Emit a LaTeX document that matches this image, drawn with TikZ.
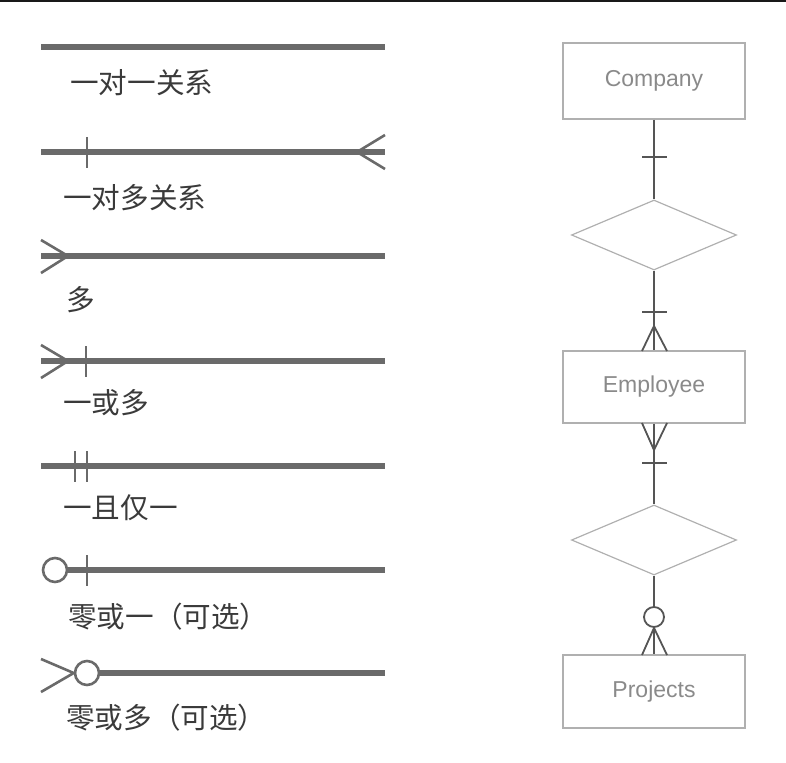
\documentclass[tikz,border=0pt]{standalone}
\usepackage{fontspec}
\setmainfont{Liberation Sans}
\newfontfamily\cjk{Noto Sans CJK SC}
\usetikzlibrary{shapes.geometric}
\definecolor{legline}{HTML}{6A6A6A}
\definecolor{conn}{HTML}{555555}
\definecolor{boxline}{HTML}{B0B0B0}
\definecolor{boxtext}{HTML}{8A8A8A}
\definecolor{labtext}{HTML}{3A3A3A}
\tikzset{
  thickline/.style={legline, line width=6pt},
  legmark/.style={legline, line width=2.6pt},
  lab/.style={anchor=west, inner sep=0pt, text=labtext, font=\cjk\fontsize{28.6}{31}\selectfont},
  entity/.style={draw=boxline, line width=1.6pt, rectangle, minimum width=182pt, inner sep=0pt, text=boxtext, font=\fontsize{23}{26}\selectfont},
  rel/.style={draw=boxline, line width=1.2pt, diamond, minimum width=165pt, minimum height=70pt, inner sep=0pt},
  conline/.style={conn, line width=2.6pt},
  conmark/.style={conn, line width=1.8pt},
  ring/.style={circle, draw=legline, fill=white, line width=2.6pt, inner sep=0pt, minimum size=24pt},
  smallring/.style={circle, draw=conn, fill=white, line width=1.8pt, inner sep=0pt, minimum size=20pt}
}
\begin{document}
\begin{tikzpicture}[x=1pt,y=-1pt]
\useasboundingbox (0,0) rectangle (786,762);
\fill[black!90] (0,0) rectangle (786,2.5);

% ---------- legend ----------
% 1: one to one
\coordinate (a1) at (41,47); \coordinate (b1) at (385,47);
\draw[thickline] (a1) -- (b1);
\node[lab] (l1) at (70,83) {一对一关系};

% 2: one to many
\coordinate (a2) at (41,152); \coordinate (b2) at (385,152);
\draw[thickline] (a2) -- (b2);
\draw[legmark] (87,137) -- (87,168);
\coordinate (f2) at (357,152);
\draw[legmark] (385,135) -- (f2) -- (385,169);
\node[lab] (l2) at (63,198) {一对多关系};

% 3: many
\coordinate (a3) at (41,256); \coordinate (b3) at (385,256);
\draw[thickline] (a3) -- (b3);
\coordinate (f3) at (68,256);
\draw[legmark] (41,240) -- (f3) -- (41,273);
\node[lab] (l3) at (66,300) {多};

% 4: one or many
\coordinate (a4) at (41,361); \coordinate (b4) at (385,361);
\draw[thickline] (a4) -- (b4);
\coordinate (f4) at (68,361);
\draw[legmark] (41,345) -- (f4) -- (41,378);
\draw[legmark] (86,346) -- (86,377);
\node[lab] (l4) at (63,403) {一或多};

% 5: one and only one
\coordinate (a5) at (41,466); \coordinate (b5) at (385,466);
\draw[thickline] (a5) -- (b5);
\draw[legmark] (75,451) -- (75,482);
\draw[legmark] (87,451) -- (87,482);
\node[lab] (l5) at (63,508) {一且仅一};

% 6: zero or one
\node[ring] (r6) at (55,570) {};
\coordinate (b6) at (385,570);
\draw[thickline] (r6.east) -- (b6);
\draw[legmark] (87,555) -- (87,586);
\node[lab] (l6) at (68,617) {零或一（可选）};

% 7: zero or many
\node[ring] (r7) at (87,673) {};
\coordinate (b7) at (385,673);
\draw[thickline] (r7.east) -- (b7);
\draw[legmark] (41,659) -- (r7.west) -- (41,692);
\node[lab] (l7) at (66,718) {零或多（可选）};

% ---------- ER diagram ----------
\node[entity, minimum height=76pt] (company) at (654,81) {Company};
\node[rel] (d1) at (654,235) {};
\node[entity, minimum height=72pt] (employee) at (654,387) {Employee};
\node[rel] (d2) at (654,540) {};
\node[entity, minimum height=73pt] (projects) at (654,691.5) {Projects};

% Company -- d1
\draw[conline] (company.south) -- (d1.north);
\draw[conmark] (642,157) -- (667,157);

% d1 -- Employee
\draw[conline] (d1.south) -- (employee.north);
\draw[conmark] (642,312) -- (667,312);
\coordinate (c1) at (654,326);
\draw[conmark] (642,351) -- (c1) -- (667,351);

% Employee -- d2
\draw[conline] (employee.south) -- (d2.north);
\coordinate (c2) at (654,450);
\draw[conmark] (642,423) -- (c2) -- (667,423);
\draw[conmark] (642,463) -- (667,463);

% d2 -- Projects
\node[smallring] (r8) at (654,617) {};
\draw[conline] (d2.south) -- (r8.north);
\draw[conline] (r8.south) -- (projects.north);
\draw[conmark] (642,655) -- (r8.south) -- (667,655);
\end{tikzpicture}
\end{document}
